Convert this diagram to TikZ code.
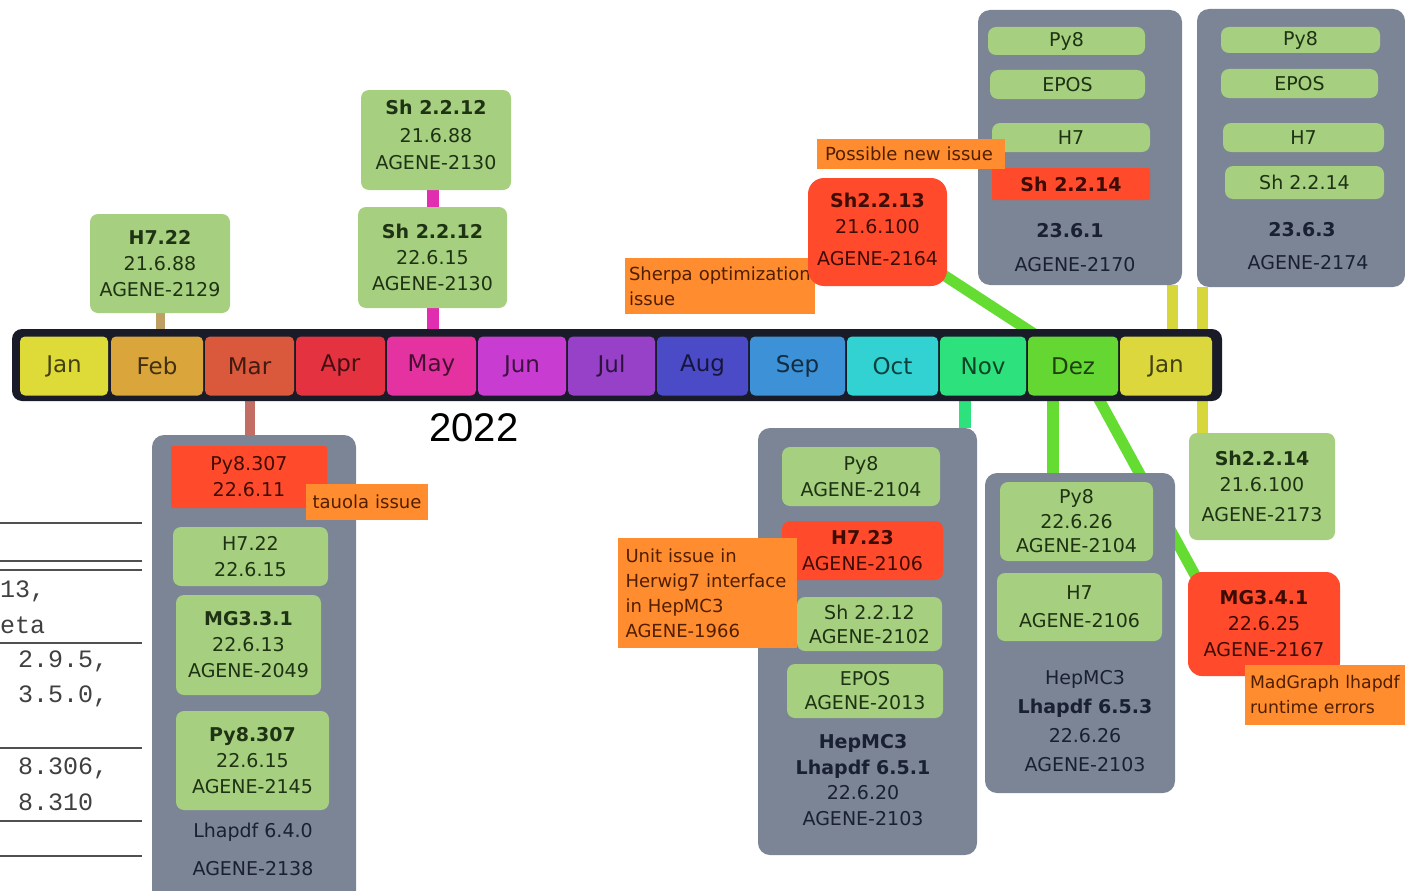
\documentclass[tikz,border=0pt]{standalone}
\usepackage{fontspec}
\setmainfont{DejaVu Sans}
\newfontfamily\monofont{Liberation Mono}
\newfontfamily\arialfont{Liberation Sans}
\usetikzlibrary{backgrounds}
\definecolor{contgray}{RGB}{123,133,149}
\definecolor{boxgreen}{RGB}{166,207,127}
\definecolor{boxred}{RGB}{255,75,43}
\definecolor{noteorange}{RGB}{255,140,46}
\definecolor{greentext}{RGB}{30,50,20}
\definecolor{redtext}{RGB}{60,12,5}
\definecolor{notetext}{RGB}{80,30,0}
\definecolor{graytext}{RGB}{25,32,50}
\definecolor{barblack}{RGB}{25,28,40}
\definecolor{cjan}{RGB}{222,218,56}
\definecolor{cfeb}{RGB}{218,165,58}
\definecolor{cmar}{RGB}{218,88,60}
\definecolor{capr}{RGB}{228,50,64}
\definecolor{cmay}{RGB}{228,50,160}
\definecolor{cjun}{RGB}{200,60,210}
\definecolor{cjul}{RGB}{150,65,200}
\definecolor{caug}{RGB}{75,75,200}
\definecolor{csep}{RGB}{60,145,215}
\definecolor{coct}{RGB}{50,210,210}
\definecolor{cnov}{RGB}{45,225,125}
\definecolor{cdez}{RGB}{100,215,50}
\definecolor{cjanb}{RGB}{220,215,60}
\definecolor{lfeb}{RGB}{190,160,100}
\definecolor{lmar}{RGB}{195,110,100}
\definecolor{lmay}{RGB}{225,45,175}
\definecolor{lnov}{RGB}{45,225,125}
\definecolor{ldez}{RGB}{100,220,50}
\definecolor{lyel}{RGB}{215,215,60}
\definecolor{tabline}{RGB}{80,80,80}
\newcommand\boxfont{\fontsize{19}{26}\selectfont}
\newcommand\notefont{\fontsize{18}{25}\selectfont}
\newcommand\monthfont{\fontsize{23}{23}\selectfont}
\begin{document}
\begin{tikzpicture}[x=1pt,y=-1pt,
  every node/.style={inner sep=0pt},
  mcell/.style={fill=#1, rounded corners=5pt, minimum height=59pt, text=#1!30!black, font=\monthfont},
  cont/.style={fill=contgray, rounded corners=12pt, text=graytext, font=\boxfont, align=center},
  gbox/.style={fill=boxgreen, rounded corners=8pt, text=greentext, font=\boxfont, align=center},
  rbox/.style={fill=boxred, rounded corners=8pt, text=redtext, font=\boxfont, align=center},
  rsbox/.style={fill=boxred, rounded corners=2pt, text=redtext, font=\boxfont, align=center},
  note/.style={fill=noteorange, text=notetext, font=\notefont, align=left, text width=#1},
  gtext/.style={text=graytext, font=\boxfont, align=center},
  conn/.style={line width=#1},
  tab/.style={draw=tabline, line width=1.3pt},
  tabtext/.style={anchor=west, text=black!75, font=\monofont\fontsize{25}{25}\selectfont}
]
\useasboundingbox (0,0) rectangle (1405,891);

% ---------- left table fragment ----------
\draw[tab] (0,523) -- (142,523);
\draw[tab] (0,561) -- (142,561);
\draw[tab] (0,570) -- (142,570);
\draw[tab] (0,643) -- (142,643);
\draw[tab] (0,748) -- (142,748);
\draw[tab] (0,821) -- (142,821);
\draw[tab] (0,856) -- (142,856);
\node[tabtext] (t1) at (0,591) {13,};
\node[tabtext] (t2) at (0,625) {eta};
\node[tabtext] (t3) at (18,661) {2.9.5,};
\node[tabtext] (t4) at (18,696) {3.5.0,};
\node[tabtext] (t5) at (18,768) {8.306,};
\node[tabtext] (t6) at (18,802) {8.310};

% ---------- timeline bar ----------
\node[fill=barblack, rounded corners=10pt, minimum width=1210pt, minimum height=72pt] (bar) at (617,365) {};
\node[mcell=cjan, minimum width=88pt] (jan) at (64,366) {Jan};
\node[mcell=cfeb, minimum width=92pt] (feb) at (157,366) {Feb};
\node[mcell=cmar, minimum width=89pt] (mar) at (249.5,366) {Mar};
\node[mcell=capr, minimum width=89pt] (apr) at (340.5,366) {Apr};
\node[mcell=cmay, minimum width=89pt] (may) at (431.5,366) {May};
\node[mcell=cjun, minimum width=88pt] (jun) at (522,366) {Jun};
\node[mcell=cjul, minimum width=87pt] (jul) at (611.5,366) {Jul};
\node[mcell=caug, minimum width=91pt] (aug) at (702.5,366) {Aug};
\node[mcell=csep, minimum width=95pt] (sep) at (797.5,366) {Sep};
\node[mcell=coct, minimum width=91pt] (oct) at (892.5,366) {Oct};
\node[mcell=cnov, minimum width=86pt] (nov) at (983,366) {Nov};
\node[mcell=cdez, minimum width=90pt] (dez) at (1073,366) {Dez};
\node[mcell=cjanb, minimum width=92pt] (janb) at (1166,366) {Jan};
\node[font=\arialfont\fontsize{40}{40}\selectfont] (year) at (474,428) {2022};

% ---------- Feb / May (above) ----------
\node[gbox, minimum width=140pt, minimum height=99pt] (h722) at (160,263.5) {\textbf{H7.22}\\21.6.88\\AGENE-2129};
\node[gbox, minimum width=150pt, minimum height=100pt, text depth=10pt, font=\fontsize{19}{27.5}\selectfont] (sha) at (436,140) {\textbf{Sh 2.2.12}\\21.6.88\\AGENE-2130};
\node[gbox, minimum width=149pt, minimum height=101pt] (shb) at (432.5,257.5) {\textbf{Sh 2.2.12}\\22.6.15\\AGENE-2130};

% ---------- March container ----------
\node[cont, minimum width=204pt, minimum height=470pt] (marc) at (254,670) {};
\node[rsbox, minimum width=156pt, minimum height=62pt] (pyred) at (249,477) {Py8.307\\22.6.11};
\node[note=112pt, inner xsep=5pt, minimum height=36pt, align=center] (tauola) at (367,502) {tauola issue};
\node[gbox, minimum width=155pt, minimum height=59pt] (h722b) at (250.5,556.5) {H7.22\\22.6.15};
\node[gbox, minimum width=145pt, minimum height=100pt] (mg331) at (248.5,645) {\textbf{MG3.3.1}\\22.6.13\\AGENE-2049};
\node[gbox, minimum width=153pt, minimum height=99pt] (py307) at (252.5,760.5) {\textbf{Py8.307}\\22.6.15\\AGENE-2145};
\node[gtext] (lh640) at (253,832) {Lhapdf 6.4.0};
\node[gtext] (ag2138) at (253,869) {AGENE-2138};

% ---------- November container ----------
\node[cont, minimum width=219pt, minimum height=427pt] (novc) at (867.5,641.5) {};
\node[gbox, minimum width=158pt, minimum height=59pt] (py8a) at (861,476.5) {Py8\\AGENE-2104};
\node[rbox, minimum width=161pt, minimum height=59pt] (h723) at (862.5,550.5) {\textbf{H7.23}\\AGENE-2106};
\node[gbox, minimum width=145pt, minimum height=54pt, font=\fontsize{19}{24}\selectfont] (sh212c) at (869.5,624) {Sh 2.2.12\\AGENE-2102};
\node[gbox, minimum width=156pt, minimum height=54pt, font=\fontsize{19}{24}\selectfont] (eposa) at (865,691) {EPOS\\AGENE-2013};
\node[gtext, font=\fontsize{19}{25.5}\selectfont] (hepa) at (863,780) {\textbf{HepMC3}\\\textbf{Lhapdf 6.5.1}\\22.6.20\\AGENE-2103};
\node[note=164pt, inner xsep=7.5pt, minimum height=110pt] (unitnote) at (707.5,593) {Unit issue in\\Herwig7 interface\\in HepMC3\\AGENE-1966};

% ---------- December container ----------
\node[cont, minimum width=190pt, minimum height=320pt] (dezc) at (1080,633) {};
\node[gbox, minimum width=153pt, minimum height=79pt, font=\fontsize{19}{24.5}\selectfont] (py8b) at (1076.5,521.5) {Py8\\22.6.26\\AGENE-2104};
\node[gbox, minimum width=165pt, minimum height=68pt, font=\fontsize{19}{28}\selectfont] (h7b) at (1079.5,607) {H7\\AGENE-2106};
\node[gtext, font=\fontsize{19}{29}\selectfont] (hepb) at (1085,721) {HepMC3\\\textbf{Lhapdf 6.5.3}\\22.6.26\\AGENE-2103};

% ---------- right column boxes ----------
\node[gbox, minimum width=146pt, minimum height=107pt] (sh214b) at (1262,486.5) {\textbf{Sh2.2.14}\\21.6.100\\[4pt]AGENE-2173};
\node[rbox, minimum width=152pt, minimum height=104pt, rounded corners=14pt] (mg341) at (1264,624) {\textbf{MG3.4.1}\\22.6.25\\AGENE-2167};
\node[note=154pt, inner xsep=5pt, minimum height=60pt, font=\fontsize{17.3}{25}\selectfont] (madnote) at (1327,695) {MadGraph lhapdf\\runtime errors};

% ---------- Sh2.2.13 and notes ----------
\node[note=182pt, inner xsep=4pt, minimum height=56pt] (sherpanote) at (720,286) {Sherpa optimization\\issue};
\node[rbox, minimum width=139pt, minimum height=108pt, rounded corners=16pt, text depth=6pt] (sh213) at (877.5,232) {\textbf{Sh2.2.13}\\21.6.100\\[6pt]AGENE-2164};

% ---------- top right containers ----------
\node[cont, minimum width=204pt, minimum height=275pt] (c1) at (1080,147.5) {};
\node[gbox, minimum width=157pt, minimum height=28pt] (c1py) at (1066.5,41) {Py8};
\node[gbox, minimum width=155pt, minimum height=29pt] (c1ep) at (1067.5,84.5) {EPOS};
\node[gbox, minimum width=158pt, minimum height=29pt] (c1h7) at (1071,137.5) {H7};
\node[rsbox, minimum width=158pt, minimum height=32pt] (c1sh) at (1071,184) {\textbf{Sh 2.2.14}};
\node[gtext] (v1) at (1070,231) {\textbf{23.6.1}};
\node[gtext] (a1) at (1075,265) {AGENE-2170};
\node[note=172pt, inner xsep=8pt, minimum height=30pt] (possnote) at (911,154) {Possible new issue};

\node[cont, minimum width=208pt, minimum height=278pt] (c2) at (1301,148) {};
\node[gbox, minimum width=159pt, minimum height=26pt] (c2py) at (1300.5,40) {Py8};
\node[gbox, minimum width=157pt, minimum height=29pt] (c2ep) at (1299.5,83.5) {EPOS};
\node[gbox, minimum width=161pt, minimum height=29pt] (c2h7) at (1303.5,137.5) {H7};
\node[gbox, minimum width=159pt, minimum height=33pt] (c2sh) at (1304.5,182.5) {Sh 2.2.14};
\node[gtext] (v2) at (1302,230) {\textbf{23.6.3}};
\node[gtext] (a2) at (1308,263) {AGENE-2174};

% ---------- connectors (behind everything) ----------
\begin{scope}[on background layer]
  \draw[conn=9pt, lfeb] (h722.south) -- (h722.south |- feb.center);
  \draw[conn=12pt, lmay] (shb.north) -- (shb.north |- sha.center);
  \draw[conn=12pt, lmay] (shb.south) -- (shb.south |- may.center);
  \draw[conn=10pt, lmar] (mar.south) -- (mar.south |- marc.center);
  \coordinate (novtop) at ([xshift=-12pt]novc.north east);
  \draw[conn=12pt, lnov] (novtop |- nov.center) -- (novtop);
  \coordinate (dezv) at ([xshift=-20pt]dez.south);
  \draw[conn=12pt, ldez] (dezv) -- (dezv |- dezc.center);
  \coordinate (dezd) at ([xshift=24pt]dez.south);
  \draw[conn=11pt, ldez] (dezd) -- ([shift={(12,12)}]mg341.north west);
  \draw[conn=11pt, ldez] (sh213.center) -- ([xshift=10pt]dez.north west);
  \coordinate (y1) at ([xshift=-10pt]c1.south east);
  \draw[conn=11pt, lyel] (y1) -- (y1 |- janb.center);
  \coordinate (y2) at ([xshift=6pt]c2.south west);
  \draw[conn=11pt, lyel] (y2) -- (y2 |- sh214b.center);
\end{scope}
\end{tikzpicture}
\end{document}
